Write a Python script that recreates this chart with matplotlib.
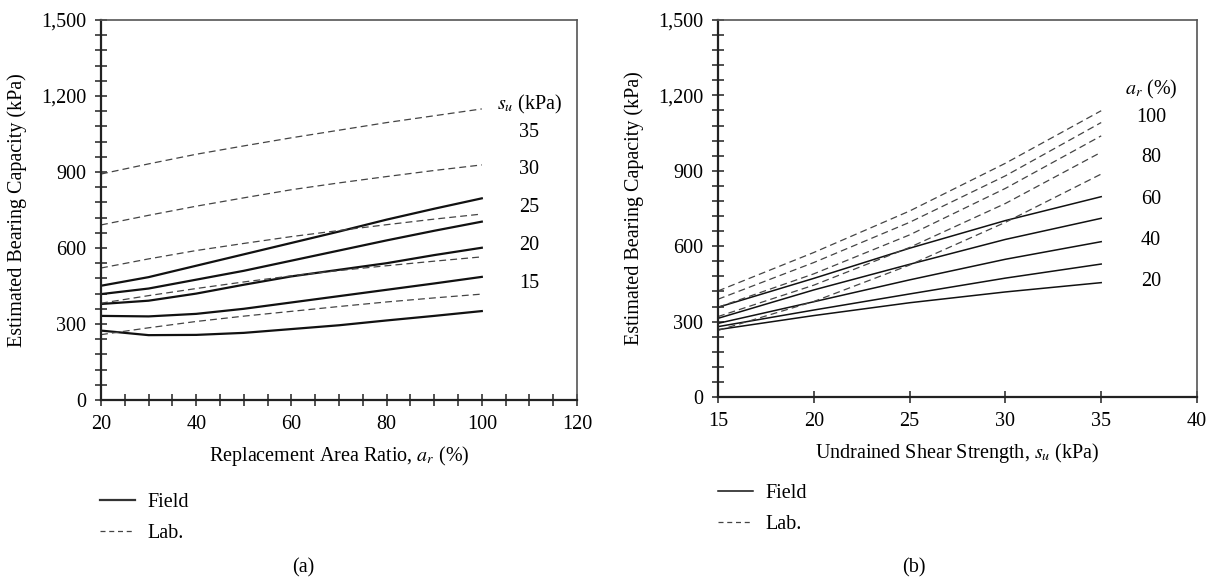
import matplotlib
matplotlib.use('Agg')
import matplotlib.pyplot as plt
from matplotlib.lines import Line2D
from matplotlib.ticker import MultipleLocator, FuncFormatter

plt.rcParams['font.family'] = ['Liberation Serif', 'DejaVu Serif']
plt.rcParams['mathtext.fontset'] = 'stix'
plt.rcParams['font.size'] = 14.5

# (a) capacity vs replacement area ratio, one curve per s_u
ar_pts = [20, 30, 40, 50, 60, 70, 80, 90, 100]
su_names = ['35', '30', '25', '20', '15']
field_a = [
    [451, 485, 530, 575, 620, 665, 712, 755, 796],   # su 35
    [418, 440, 475, 510, 550, 590, 630, 668, 704],   # su 30
    [379, 392, 420, 455, 488, 514, 540, 572, 601],   # su 25
    [332, 330, 340, 360, 385, 410, 435, 460, 486],   # su 20
    [274, 256, 257, 265, 280, 295, 314, 332, 351],   # su 15
]
lab_a = [
    [892, 932, 970, 1003, 1035, 1065, 1095, 1122, 1149],
    [691, 729, 765, 798, 830, 857, 882, 906, 928],
    [521, 557, 590, 618, 645, 669, 692, 714, 734],
    [382, 412, 440, 466, 490, 511, 530, 548, 565],
    [258, 285, 310, 331, 350, 369, 387, 403, 418],
]
su_label_y = [1055, 910, 758, 610, 460]

# (b) capacity vs undrained shear strength, one curve per a_r
su_pts = [15, 20, 25, 30, 35]
ar_names = ['100', '80', '60', '40', '20']
field_b = [
    [357, 472, 592, 702, 797],   # ar 100
    [313, 426, 528, 627, 711],   # ar 80
    [293, 379, 466, 548, 618],   # ar 60
    [280, 346, 410, 473, 529],   # ar 40
    [268, 324, 375, 418, 455],   # ar 20
]
lab_b = [
    [422, 575, 740, 930, 1139],
    [389, 535, 695, 880, 1092],
    [357, 490, 645, 830, 1039],
    [320, 445, 595, 770, 974],
    [265, 380, 525, 695, 887],
]
ar_label_y = [1114, 951, 786, 624, 459]

fig = plt.figure(figsize=(12.18, 5.82), dpi=100)
ax1 = fig.add_axes([101/1218, 1-400/582, 476/1218, 380/582])
ax2 = fig.add_axes([718/1218, 1-397/582, 479/1218, 377/582])

dash = (0, (5.5, 3.3))
for f, l in zip(field_a, lab_a):
    ax1.plot(ar_pts, f, color='#111111', lw=1.6)
    ax1.plot(ar_pts, l, color='#444444', lw=0.9, ls=dash)
for f, l in zip(field_b, lab_b):
    ax2.plot(su_pts, f, color='#111111', lw=1.1)
    ax2.plot(su_pts, l, color='#444444', lw=0.9, ls=dash)

ax1.text(110, 1166, r'$s_u$ (kPa)', ha='center', va='center')
for name, y in zip(su_names, su_label_y):
    ax1.text(110, y, name, ha='center', va='center')
ax2.text(37.6, 1222, r'$a_r$ (%)', ha='center', va='center')
for name, y in zip(ar_names, ar_label_y):
    ax2.text(37.6, y, name, ha='center', va='center')

fmt = FuncFormatter(lambda v, p: '{:,.0f}'.format(v))
for ax in (ax1, ax2):
    ax.set_ylim(0, 1500)
    ax.yaxis.set_major_locator(MultipleLocator(300))
    ax.yaxis.set_minor_locator(MultipleLocator(60))
    ax.yaxis.set_major_formatter(fmt)
    ax.tick_params(which='both', direction='inout', length=8, width=1.1,
                   color='#222222', top=False, right=False)
    ax.tick_params(which='major', pad=6.5)
    ax.set_ylabel('Estimated Bearing Capacity (kPa)')
    ax.yaxis.set_label_coords(-0.155, 0.5)
    for s in ('left', 'bottom'):
        ax.spines[s].set_linewidth(1.6)
        ax.spines[s].set_color('#222222')
    for s in ('top', 'right'):
        ax.spines[s].set_linewidth(1.2)
        ax.spines[s].set_color('#555555')

ax1.set_xlim(20, 120)
ax1.xaxis.set_major_locator(MultipleLocator(20))
ax1.xaxis.set_minor_locator(MultipleLocator(5))
ax1.set_xlabel(r'Replacement Area Ratio, $a_r$ (%)')
ax1.xaxis.set_label_coords(0.5, -0.117)

ax2.set_xlim(15, 40)
ax2.xaxis.set_major_locator(MultipleLocator(5))
ax2.set_xlabel(r'Undrained Shear Strength, $s_u$ (kPa)')
ax2.xaxis.set_label_coords(0.5, -0.117)

h1 = [Line2D([], [], color='#333333', lw=1.6),
      Line2D([], [], color='#444444', lw=0.9, ls=(0, (4, 3)))]
h2 = [Line2D([], [], color='#111111', lw=1.1),
      Line2D([], [], color='#444444', lw=0.9, ls=(0, (4, 3)))]
fig.legend(h1, ['Field', 'Lab.'], loc='upper left', bbox_to_anchor=(100/1218, 1-493/582),
           frameon=False, handlelength=1.75, handletextpad=0.6, labelspacing=0.6,
           borderpad=0, borderaxespad=0)
fig.legend(h2, ['Field', 'Lab.'], loc='upper left', bbox_to_anchor=(718/1218, 1-484/582),
           frameon=False, handlelength=1.75, handletextpad=0.6, labelspacing=0.6,
           borderpad=0, borderaxespad=0)

fig.text(303/1218, 1-568/582, '(a)', ha='center', va='center')
fig.text(914/1218, 1-568/582, '(b)', ha='center', va='center')

fig.savefig('out.png', dpi=100)
